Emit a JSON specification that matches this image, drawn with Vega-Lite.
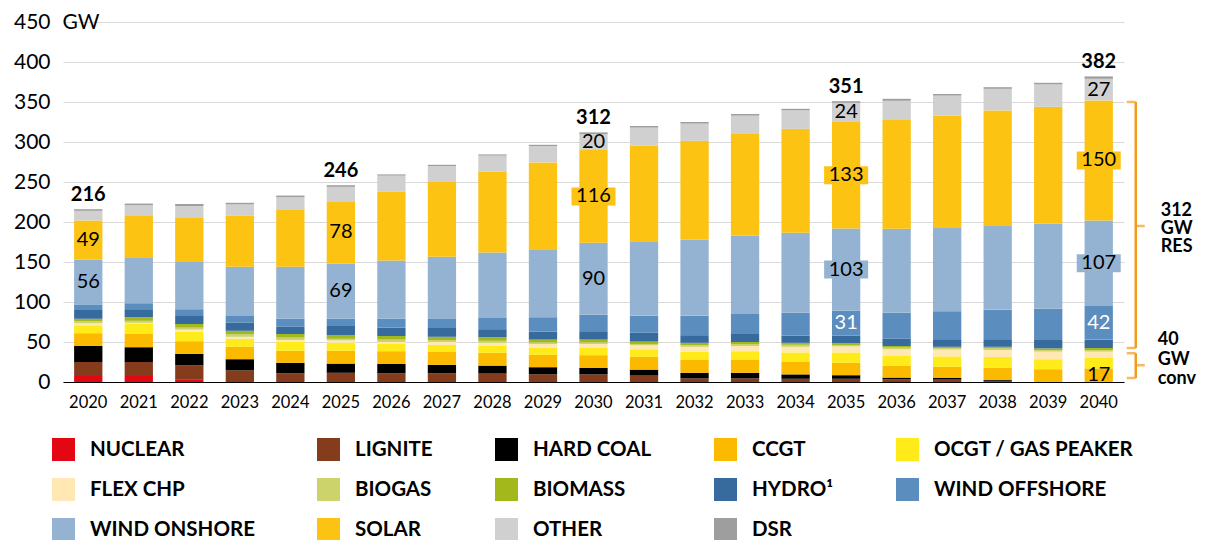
{
  "$schema": "https://vega.github.io/schema/vega-lite/v6.json",
  "width": 1061,
  "height": 360,
  "autosize": {"type": "none"},
  "padding": {"left": 63, "top": 22, "right": 89, "bottom": 158},
  "config": {
    "font": "Lato",
    "view": {"stroke": null},
    "axisY": {"labelFont": "Lato", "labelFontSize": 21, "labelColor": "black", "labelOverlap": false, "domain": false, "ticks": false, "tickSize": 0, "labelPadding": 13, "gridColor": "#d9d9d9", "gridWidth": 1, "titleFont": "Lato", "titleFontSize": 21, "titleFontWeight": "normal", "titleColor": "black", "titleAngle": 0, "titleAlign": "left", "titleBaseline": "middle", "titleX": -1, "titleY": 0},
    "axisX": {"labelFont": "Lato", "labelFontSize": 16.5, "labelColor": "black", "labelAngle": 0, "ticks": false, "tickSize": 0, "labelPadding": 12, "domainColor": "black", "domainWidth": 1, "grid": false}
  },
  "layer": [
    {
      "data": {"values": [
        {"year":"2020","NUCLEAR":7.5,"LIGNITE":17.5,"HARD COAL":20,"CCGT":16,"OCGT / GAS PEAKER":10,"FLEX CHP":2.5,"BIOGAS":2.5,"BIOMASS":3,"HYDRO¹":11,"WIND OFFSHORE":7,"WIND ONSHORE":56,"SOLAR":49,"OTHER":12,"DSR":2},
        {"year":"2021","NUCLEAR":7.5,"LIGNITE":17.5,"HARD COAL":18.5,"CCGT":16.5,"OCGT / GAS PEAKER":12.5,"FLEX CHP":1.5,"BIOGAS":2.5,"BIOMASS":4.5,"HYDRO¹":10,"WIND OFFSHORE":7.5,"WIND ONSHORE":57.5,"SOLAR":52.5,"OTHER":12.5,"DSR":2},
        {"year":"2022","NUCLEAR":3.5,"LIGNITE":17.5,"HARD COAL":14,"CCGT":16,"OCGT / GAS PEAKER":12,"FLEX CHP":2.5,"BIOGAS":2.5,"BIOMASS":4.5,"HYDRO¹":10,"WIND OFFSHORE":8.5,"WIND ONSHORE":59,"SOLAR":56,"OTHER":14,"DSR":2.5},
        {"year":"2023","NUCLEAR":0,"LIGNITE":14.5,"HARD COAL":14,"CCGT":15.5,"OCGT / GAS PEAKER":10,"FLEX CHP":2.5,"BIOGAS":3,"BIOMASS":4.5,"HYDRO¹":10,"WIND OFFSHORE":8.5,"WIND ONSHORE":61.5,"SOLAR":64,"OTHER":14,"DSR":2},
        {"year":"2024","NUCLEAR":0,"LIGNITE":11,"HARD COAL":13,"CCGT":15,"OCGT / GAS PEAKER":11.5,"FLEX CHP":2,"BIOGAS":3,"BIOMASS":4.5,"HYDRO¹":9,"WIND OFFSHORE":10,"WIND ONSHORE":65,"SOLAR":71,"OTHER":16,"DSR":2},
        {"year":"2025","NUCLEAR":0,"LIGNITE":11.5,"HARD COAL":11.5,"CCGT":16,"OCGT / GAS PEAKER":10,"FLEX CHP":3,"BIOGAS":2,"BIOMASS":4.5,"HYDRO¹":11.5,"WIND OFFSHORE":9,"WIND ONSHORE":69,"SOLAR":78,"OTHER":18,"DSR":2},
        {"year":"2026","NUCLEAR":0,"LIGNITE":11,"HARD COAL":11.5,"CCGT":16,"OCGT / GAS PEAKER":9,"FLEX CHP":2.5,"BIOGAS":3,"BIOMASS":4.5,"HYDRO¹":10.5,"WIND OFFSHORE":11,"WIND ONSHORE":73,"SOLAR":86,"OTHER":20,"DSR":1.5},
        {"year":"2027","NUCLEAR":0,"LIGNITE":11,"HARD COAL":10.5,"CCGT":16,"OCGT / GAS PEAKER":9,"FLEX CHP":3.5,"BIOGAS":2.5,"BIOMASS":4,"HYDRO¹":11,"WIND OFFSHORE":12,"WIND ONSHORE":77,"SOLAR":93.5,"OTHER":20,"DSR":1.5},
        {"year":"2028","NUCLEAR":0,"LIGNITE":10.5,"HARD COAL":10,"CCGT":16,"OCGT / GAS PEAKER":9,"FLEX CHP":3.5,"BIOGAS":2.5,"BIOMASS":4.5,"HYDRO¹":10,"WIND OFFSHORE":14,"WIND ONSHORE":82,"SOLAR":101,"OTHER":20,"DSR":1.5},
        {"year":"2029","NUCLEAR":0,"LIGNITE":9.5,"HARD COAL":9,"CCGT":15.5,"OCGT / GAS PEAKER":9,"FLEX CHP":4.5,"BIOGAS":2,"BIOMASS":3.5,"HYDRO¹":10,"WIND OFFSHORE":18,"WIND ONSHORE":85,"SOLAR":108.5,"OTHER":20.5,"DSR":1.5},
        {"year":"2030","NUCLEAR":0,"LIGNITE":9.5,"HARD COAL":8,"CCGT":16,"OCGT / GAS PEAKER":9,"FLEX CHP":5,"BIOGAS":2,"BIOMASS":3.5,"HYDRO¹":10.5,"WIND OFFSHORE":20.5,"WIND ONSHORE":90,"SOLAR":116,"OTHER":20,"DSR":2},
        {"year":"2031","NUCLEAR":0,"LIGNITE":8,"HARD COAL":7.5,"CCGT":16,"OCGT / GAS PEAKER":9.5,"FLEX CHP":5,"BIOGAS":1.5,"BIOMASS":3,"HYDRO¹":11,"WIND OFFSHORE":21.5,"WIND ONSHORE":93,"SOLAR":119.5,"OTHER":22.5,"DSR":2},
        {"year":"2032","NUCLEAR":0,"LIGNITE":4.5,"HARD COAL":7,"CCGT":16,"OCGT / GAS PEAKER":10.5,"FLEX CHP":6,"BIOGAS":2,"BIOMASS":3,"HYDRO¹":9.5,"WIND OFFSHORE":24.5,"WIND ONSHORE":95,"SOLAR":123.5,"OTHER":21.5,"DSR":2},
        {"year":"2033","NUCLEAR":0,"LIGNITE":4.5,"HARD COAL":7,"CCGT":16,"OCGT / GAS PEAKER":11,"FLEX CHP":6.5,"BIOGAS":2.5,"BIOMASS":2.5,"HYDRO¹":10,"WIND OFFSHORE":25,"WIND ONSHORE":98,"SOLAR":127,"OTHER":23,"DSR":2},
        {"year":"2034","NUCLEAR":0,"LIGNITE":4,"HARD COAL":5.5,"CCGT":15.5,"OCGT / GAS PEAKER":12,"FLEX CHP":7,"BIOGAS":2.5,"BIOMASS":2.5,"HYDRO¹":9,"WIND OFFSHORE":28.5,"WIND ONSHORE":100,"SOLAR":130,"OTHER":23,"DSR":2},
        {"year":"2035","NUCLEAR":0,"LIGNITE":4,"HARD COAL":4.5,"CCGT":15.5,"OCGT / GAS PEAKER":13,"FLEX CHP":7.5,"BIOGAS":1.5,"BIOMASS":2.5,"HYDRO¹":9.5,"WIND OFFSHORE":31,"WIND ONSHORE":103,"SOLAR":133,"OTHER":24,"DSR":2},
        {"year":"2036","NUCLEAR":0,"LIGNITE":3.5,"HARD COAL":2,"CCGT":15,"OCGT / GAS PEAKER":12.5,"FLEX CHP":8,"BIOGAS":2,"BIOMASS":2,"HYDRO¹":9.5,"WIND OFFSHORE":32,"WIND ONSHORE":105,"SOLAR":137,"OTHER":23,"DSR":2.5},
        {"year":"2037","NUCLEAR":0,"LIGNITE":3,"HARD COAL":2,"CCGT":14,"OCGT / GAS PEAKER":13,"FLEX CHP":8.5,"BIOGAS":2,"BIOMASS":1.5,"HYDRO¹":9.5,"WIND OFFSHORE":35,"WIND ONSHORE":105,"SOLAR":139.5,"OTHER":25,"DSR":2},
        {"year":"2038","NUCLEAR":0,"LIGNITE":1.5,"HARD COAL":1,"CCGT":15.5,"OCGT / GAS PEAKER":13.5,"FLEX CHP":8.5,"BIOGAS":2,"BIOMASS":2,"HYDRO¹":9.5,"WIND OFFSHORE":37,"WIND ONSHORE":105.5,"SOLAR":143.5,"OTHER":27,"DSR":2},
        {"year":"2039","NUCLEAR":0,"LIGNITE":0,"HARD COAL":0,"CCGT":16,"OCGT / GAS PEAKER":12.5,"FLEX CHP":9.5,"BIOGAS":2,"BIOMASS":2,"HYDRO¹":10.5,"WIND OFFSHORE":39,"WIND ONSHORE":106.5,"SOLAR":146,"OTHER":28,"DSR":2},
        {"year":"2040","NUCLEAR":0,"LIGNITE":0,"HARD COAL":0,"CCGT":17,"OCGT / GAS PEAKER":13,"FLEX CHP":8,"BIOGAS":2,"BIOMASS":2.5,"HYDRO¹":10.5,"WIND OFFSHORE":42,"WIND ONSHORE":107,"SOLAR":150,"OTHER":27,"DSR":3}
      ]},
      "transform": [
        {"fold": ["NUCLEAR","LIGNITE","HARD COAL","CCGT","OCGT / GAS PEAKER","FLEX CHP","BIOGAS","BIOMASS","HYDRO¹","WIND OFFSHORE","WIND ONSHORE","SOLAR","OTHER","DSR"], "as": ["source","value"]},
        {"calculate": "indexof(['NUCLEAR','LIGNITE','HARD COAL','CCGT','OCGT / GAS PEAKER','FLEX CHP','BIOGAS','BIOMASS','HYDRO¹','WIND OFFSHORE','WIND ONSHORE','SOLAR','OTHER','DSR'], datum.source)", "as": "ord"},
        {"stack": "value", "groupby": ["year"], "sort": [{"field": "ord", "order": "ascending"}], "as": ["v0","v1"]},
        {"calculate": "(datum.v0 + datum.v1) / 2", "as": "mid"}
      ],
      "layer": [
        {
          "mark": {"type": "bar"},
          "encoding": {
            "x": {"field": "year", "type": "ordinal", "scale": {"paddingInner": 0.44, "paddingOuter": 0.22}, "axis": {"title": null}},
            "y": {"field": "v0", "type": "quantitative", "scale": {"domain": [0, 450], "nice": false},
              "axis": {"title": "GW", "values": [0,50,100,150,200,250,300,350,400,450]}},
            "y2": {"field": "v1"},
            "color": {"field": "source", "type": "nominal",
              "scale": {"domain": ["NUCLEAR","LIGNITE","HARD COAL","CCGT","OCGT / GAS PEAKER","FLEX CHP","BIOGAS","BIOMASS","HYDRO¹","WIND OFFSHORE","WIND ONSHORE","SOLAR","OTHER","DSR"],
                "range": ["#E30613","#843C1C","#000000","#FBB900","#FFEB1A","#FFE8B3","#CCD36B","#A3B81A","#376B9E","#5B8DBF","#94B3D2","#FCC312","#D0D0D0","#9E9E9E"]},
              "legend": {"title": null, "orient": "none", "legendX": -11, "legendY": 416, "direction": "horizontal", "columns": 5, "symbolType": "square", "symbolSize": 529, "symbolStrokeWidth": 0, "symbolOpacity": 1, "labelFont": "Lato", "labelFontSize": 20.5, "labelFontWeight": "bold", "labelColor": "black", "labelOffset": 15, "columnPadding": 62, "rowPadding": 17, "gridAlign": "each", "labelLimit": 400}}
          }
        },
        {
          "transform": [
            {"filter": "indexof(['2030','2035','2040'], datum.year) >= 0 && (datum.source == 'WIND ONSHORE' || datum.source == 'SOLAR') && datum.value >= 100"},
            {"calculate": "datum.mid - 11.25", "as": "blo"},
            {"calculate": "datum.mid + 11.25", "as": "bhi"}
          ],
          "mark": {"type": "bar", "width": 44},
          "encoding": {
            "x": {"field": "year", "type": "ordinal", "axis": {"title": null}},
            "y": {"field": "blo", "type": "quantitative", "axis": {"title": "GW", "values": [0,50,100,150,200,250,300,350,400,450]}},
            "y2": {"field": "bhi"},
            "color": {"field": "source", "type": "nominal"}
          }
        },
        {
          "transform": [
            {"filter": "indexof(['2020','2025','2030','2035','2040'], datum.year) >= 0 && (datum.source == 'WIND ONSHORE' || datum.source == 'SOLAR' || (datum.source == 'OTHER' && datum.year >= '2030') || (datum.source == 'WIND OFFSHORE' && datum.year >= '2035') || (datum.source == 'CCGT' && datum.year == '2040'))"}
          ],
          "mark": {"type": "text", "font": "Lato", "fontSize": 20, "baseline": "middle", "align": "center"},
          "encoding": {
            "x": {"field": "year", "type": "ordinal", "axis": {"title": null}},
            "y": {"field": "mid", "type": "quantitative", "axis": {"title": "GW", "values": [0,50,100,150,200,250,300,350,400,450]}},
            "text": {"field": "value", "type": "quantitative", "format": ".0f"},
            "color": {"condition": {"test": "datum.source == 'WIND OFFSHORE'", "value": "white"}, "value": "black"}
          }
        },
        {
          "transform": [
            {"aggregate": [{"op": "max", "field": "v1", "as": "total"}], "groupby": ["year"]},
            {"filter": "indexof(['2020','2025','2030','2035','2040'], datum.year) >= 0"}
          ],
          "mark": {"type": "text", "font": "Lato", "fontSize": 20, "fontWeight": "bold", "baseline": "bottom", "align": "center", "dy": -4, "color": "black"},
          "encoding": {
            "x": {"field": "year", "type": "ordinal", "axis": {"title": null}},
            "y": {"field": "total", "type": "quantitative", "axis": {"title": "GW", "values": [0,50,100,150,200,250,300,350,400,450]}},
            "text": {"field": "total", "type": "quantitative", "format": ".0f"}
          }
        }
      ]
    },
    {
      "data": {"values": [
        {"group": "RES", "lo": 42.5, "hi": 350, "mid": 195, "at": 214, "text": "312\nGW\nRES"},
        {"group": "conv", "lo": 5, "hi": 36, "mid": 21, "at": 52.5, "text": "40\nGW\nconv"}
      ]},
      "layer": [
        {
          "mark": {"type": "rule", "color": "#F39B1C", "strokeWidth": 2.5, "xOffset": 37},
          "encoding": {"x": {"datum": "2040", "type": "ordinal", "axis": {"title": null}}, "y": {"field": "lo", "type": "quantitative", "axis": {"title": "GW", "values": [0,50,100,150,200,250,300,350,400,450]}}, "y2": {"field": "hi"}}
        },
        {
          "mark": {"type": "tick", "orient": "horizontal", "color": "#F39B1C", "size": 9, "thickness": 2.5, "xOffset": 32.5},
          "encoding": {"x": {"datum": "2040", "type": "ordinal", "axis": {"title": null}}, "y": {"field": "lo", "type": "quantitative", "axis": {"title": "GW", "values": [0,50,100,150,200,250,300,350,400,450]}}}
        },
        {
          "mark": {"type": "tick", "orient": "horizontal", "color": "#F39B1C", "size": 9, "thickness": 2.5, "xOffset": 32.5},
          "encoding": {"x": {"datum": "2040", "type": "ordinal", "axis": {"title": null}}, "y": {"field": "hi", "type": "quantitative", "axis": {"title": "GW", "values": [0,50,100,150,200,250,300,350,400,450]}}}
        },
        {
          "mark": {"type": "tick", "orient": "horizontal", "color": "#F39B1C", "size": 9, "thickness": 2.5, "xOffset": 41.5},
          "encoding": {"x": {"datum": "2040", "type": "ordinal", "axis": {"title": null}}, "y": {"field": "mid", "type": "quantitative", "axis": {"title": "GW", "values": [0,50,100,150,200,250,300,350,400,450]}}}
        },
        {
          "transform": [{"filter": "datum.group == 'RES'"}],
          "mark": {"type": "text", "font": "Lato", "fontSize": 18, "fontWeight": "bold", "align": "left", "baseline": "middle", "lineBreak": "\n", "lineHeight": 18, "xOffset": 62, "color": "black"},
          "encoding": {"x": {"datum": "2040", "type": "ordinal", "axis": {"title": null}}, "y": {"field": "at", "type": "quantitative", "axis": {"title": "GW", "values": [0,50,100,150,200,250,300,350,400,450]}}, "text": {"field": "text"}}
        },
        {
          "transform": [{"filter": "datum.group == 'conv'"}],
          "mark": {"type": "text", "font": "Lato", "fontSize": 18, "fontWeight": "bold", "align": "left", "baseline": "middle", "lineBreak": "\n", "lineHeight": 19.5, "xOffset": 59, "color": "black"},
          "encoding": {"x": {"datum": "2040", "type": "ordinal", "axis": {"title": null}}, "y": {"field": "at", "type": "quantitative", "axis": {"title": "GW", "values": [0,50,100,150,200,250,300,350,400,450]}}, "text": {"field": "text"}}
        }
      ]
    }
  ]
}
